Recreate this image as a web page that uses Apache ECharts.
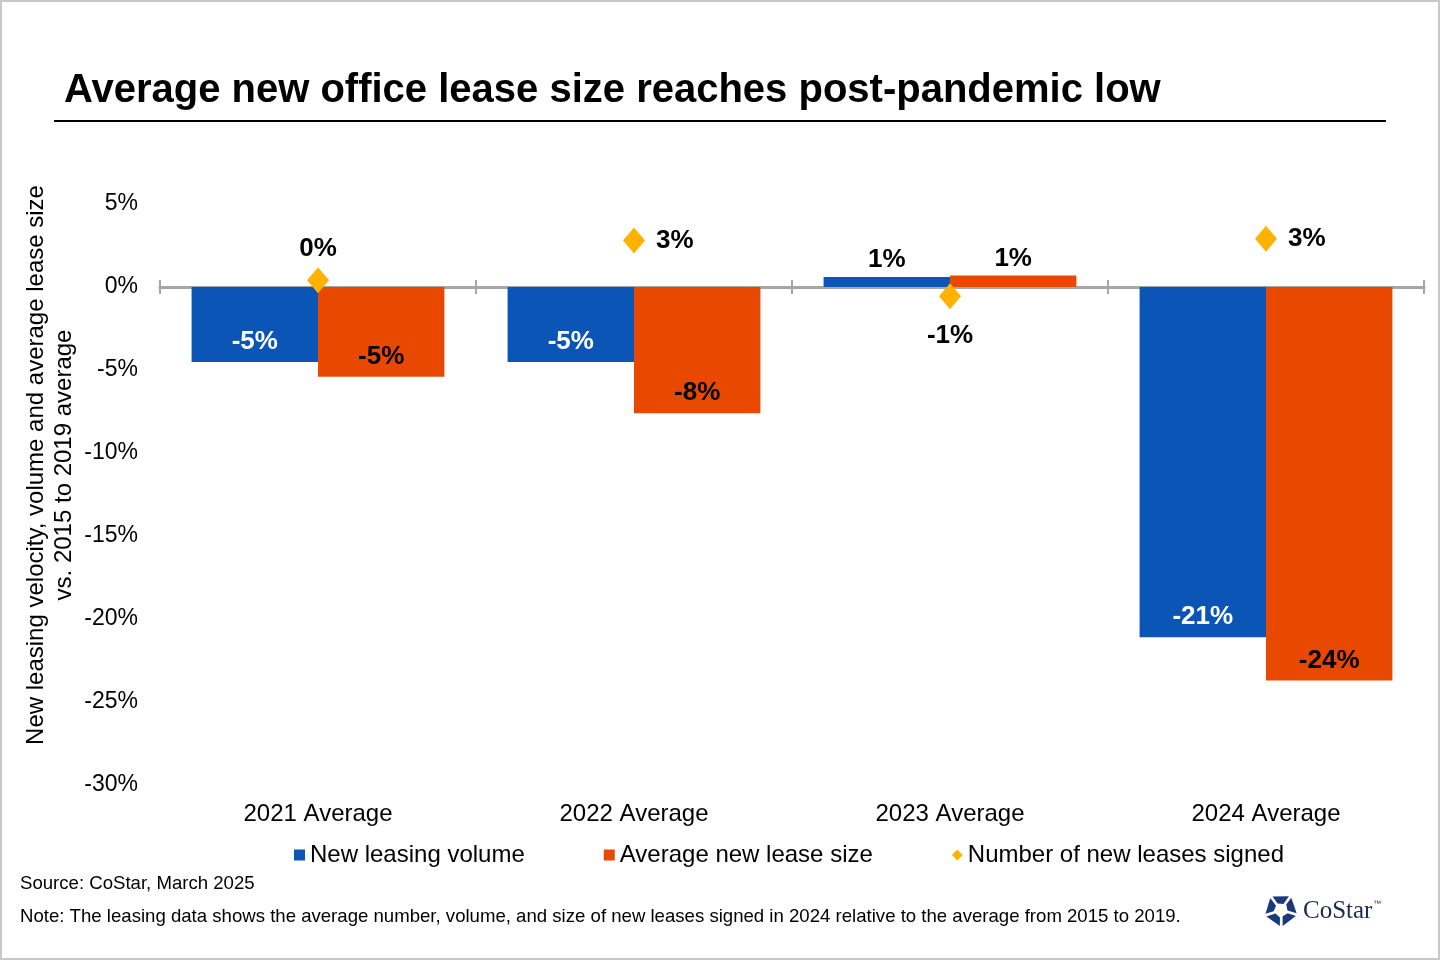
<!DOCTYPE html>
<html>
<head>
<meta charset="utf-8">
<script src="https://cdn.jsdelivr.net/npm/echarts@6/dist/echarts.min.js"></script>
<style>
html, body { margin: 0; padding: 0; background: #fff; }
#chart { width: 1440px; height: 960px; }
</style>
</head>
<body>
<div id="chart"></div>
<script>
// data (% vs. 2015-2019 average)
const categories = ['2021 Average', '2022 Average', '2023 Average', '2024 Average'];
const leasingVolume = [-4.52, -4.52, 0.6, -21.1];
const avgLeaseSize = [-5.4, -7.6, 0.7, -23.7];
const leasesSigned = [0.4, 2.8, -0.55, 2.9];

const FONT = '"Liberation Sans", Arial, sans-serif';
const BLUE = '#0A55B5';
const ORANGE = '#E94800';
const GOLD = '#FFB300';

function pct(v) {
    return v.toFixed(0) + '%';
}

// bar labels: inside the end of the bar when negative, above it when positive
function barData(values, labelColor) {
    return values.map(v => ({
        value: v,
        label: v < 0
            ? { position: 'insideBottom', distance: 7, color: labelColor }
            : { position: 'top', distance: 4, color: '#000' }
    }));
}

// diamond labels sit where they do not overlap the bars
const dotLabelPos = ['top', 'right', 'bottom', 'right'];

// small CoStar mark
function logoPieces(cx, cy) {
    const out = [];
    const R = 16, r = 6.5;
    const d = Math.PI / 180;
    for (let k = 0; k < 5; k++) {
        const a = (k * 72 - 90) * d;
        const p = (ang, rad) => [cx + rad * Math.cos(ang), cy + rad * Math.sin(ang)];
        out.push({
            type: 'polygon',
            shape: { points: [p(a - 32 * d, R), p(a + 30 * d, R), p(a + 22 * d, r), p(a - 28 * d, r + 1)] },
            style: { fill: '#1B3A7A' }
        });
    }
    return out;
}

const chart = echarts.init(document.getElementById('chart'));

const axisTickStyle = { color: '#A6A6A6', width: 2 };

const option = {
    backgroundColor: '#fff',
    animation: false,
    textStyle: { fontFamily: FONT },
    title: {
        text: 'Average new office lease size reaches post-pandemic low',
        left: 59,
        top: 66,
        textStyle: { fontFamily: FONT, fontSize: 40, fontWeight: 'bold', color: '#000' }
    },
    legend: {
        left: 289,
        top: 838,
        itemGap: 79,
        itemWidth: 11,
        itemHeight: 11,
        textStyle: { fontFamily: FONT, fontSize: 24, color: '#000' },
        data: [
            { name: 'New leasing volume', icon: 'rect' },
            { name: 'Average new lease size', icon: 'rect' },
            { name: 'Number of new leases signed', icon: 'diamond' }
        ]
    },
    grid: { left: 160, right: 16, top: 204, bottom: 175 },
    xAxis: [
        {
            type: 'category',
            data: categories,
            position: 'bottom',
            axisLine: { show: false, onZero: false },
            axisTick: { show: false },
            axisLabel: { margin: 17, fontSize: 24, color: '#000', fontFamily: FONT }
        },
        {
            type: 'category',
            data: categories,
            position: 'bottom',
            axisLine: { show: true, onZero: true, onZeroAxisIndex: 0, lineStyle: { color: '#A6A6A6', width: 3 } },
            axisTick: { show: true, length: 7, lineStyle: axisTickStyle },
            axisLabel: { show: false }
        },
        {
            // second set of ticks, pointing up from the zero line
            type: 'category',
            data: categories,
            position: 'bottom',
            axisLine: { show: true, onZero: true, onZeroAxisIndex: 1, lineStyle: { opacity: 0 } },
            axisTick: { show: true, inside: true, length: 7, lineStyle: axisTickStyle },
            axisLabel: { show: false }
        }
    ],
    yAxis: [
        {
            type: 'value',
            min: -30,
            max: 5,
            interval: 5,
            axisLine: { show: false },
            axisTick: { show: false },
            splitLine: { show: false },
            axisLabel: {
                margin: 22,
                fontSize: 23,
                color: '#000',
                fontFamily: FONT,
                formatter: v => v + '%'
            }
        },
        {
            type: 'value',
            min: -30,
            max: 5,
            interval: 5,
            show: false,
            splitLine: { show: false }
        }
    ],
    series: [
        {
            name: 'New leasing volume',
            type: 'bar',
            data: barData(leasingVolume, '#fff'),
            barGap: '0%',
            barCategoryGap: '20%',
            itemStyle: { color: BLUE },
            label: {
                show: true,
                fontSize: 26,
                fontWeight: 'bold',
                fontFamily: FONT,
                formatter: p => pct(p.value)
            }
        },
        {
            name: 'Average new lease size',
            type: 'bar',
            data: barData(avgLeaseSize, '#000'),
            barGap: '0%',
            barCategoryGap: '20%',
            itemStyle: { color: ORANGE },
            label: {
                show: true,
                fontSize: 26,
                fontWeight: 'bold',
                fontFamily: FONT,
                formatter: p => pct(p.value)
            }
        },
        {
            name: 'Number of new leases signed',
            type: 'scatter',
            symbol: 'diamond',
            symbolSize: [22, 26],
            z: 5,
            data: leasesSigned.map((v, i) => ({
                value: v,
                label: {
                    position: dotLabelPos[i],
                    distance: dotLabelPos[i] === 'bottom' ? 14 : (dotLabelPos[i] === 'top' ? 6 : 11)
                }
            })),
            itemStyle: { color: GOLD, opacity: 1 },
            label: {
                show: true,
                fontSize: 26,
                fontWeight: 'bold',
                fontFamily: FONT,
                color: '#000',
                formatter: p => pct(p.value)
            }
        }
    ],
    graphic: [
        {
            type: 'rect',
            shape: { x: 1, y: 1, width: 1438, height: 958 },
            style: { fill: 'none', stroke: '#C8C8C8', lineWidth: 2 },
            silent: true
        },
        {
            type: 'line',
            shape: { x1: 54, y1: 121, x2: 1386, y2: 121 },
            style: { stroke: '#000', lineWidth: 2 }
        },
        {
            type: 'text',
            x: 36,
            y: 465,
            rotation: Math.PI / 2,
            style: {
                text: 'New leasing velocity, volume and average lease size',
                fontFamily: FONT,
                fontSize: 24,
                fill: '#000',
                align: 'center',
                verticalAlign: 'middle'
            }
        },
        {
            type: 'text',
            x: 64,
            y: 465,
            rotation: Math.PI / 2,
            style: {
                text: 'vs. 2015 to 2019 average',
                fontFamily: FONT,
                fontSize: 24,
                fill: '#000',
                align: 'center',
                verticalAlign: 'middle'
            }
        },
        {
            type: 'text',
            x: 20,
            y: 884,
            style: {
                text: 'Source: CoStar, March 2025',
                fontFamily: FONT,
                fontSize: 18.6,
                fill: '#000',
                verticalAlign: 'middle'
            }
        },
        {
            type: 'text',
            x: 20,
            y: 917,
            style: {
                text: 'Note: The leasing data shows the average number, volume, and size of new leases signed in 2024 relative to the average from 2015 to 2019.',
                fontFamily: FONT,
                fontSize: 18.6,
                fill: '#000',
                verticalAlign: 'middle'
            }
        },
        ...logoPieces(1281, 910),
        {
            type: 'text',
            x: 1303,
            y: 911,
            style: {
                text: 'CoStar',
                fontFamily: '"Liberation Serif", "DejaVu Serif", serif',
                fontSize: 25,
                fill: '#1B2A4E',
                verticalAlign: 'middle'
            }
        },
        {
            type: 'text',
            x: 1373,
            y: 904,
            style: {
                text: '™',
                fontFamily: FONT,
                fontSize: 8,
                fill: '#1B2A4E',
                verticalAlign: 'middle'
            }
        }
    ]
};

chart.setOption(option);
window.addEventListener('resize', function () {
    chart.resize();
});
</script>
</body>
</html>
